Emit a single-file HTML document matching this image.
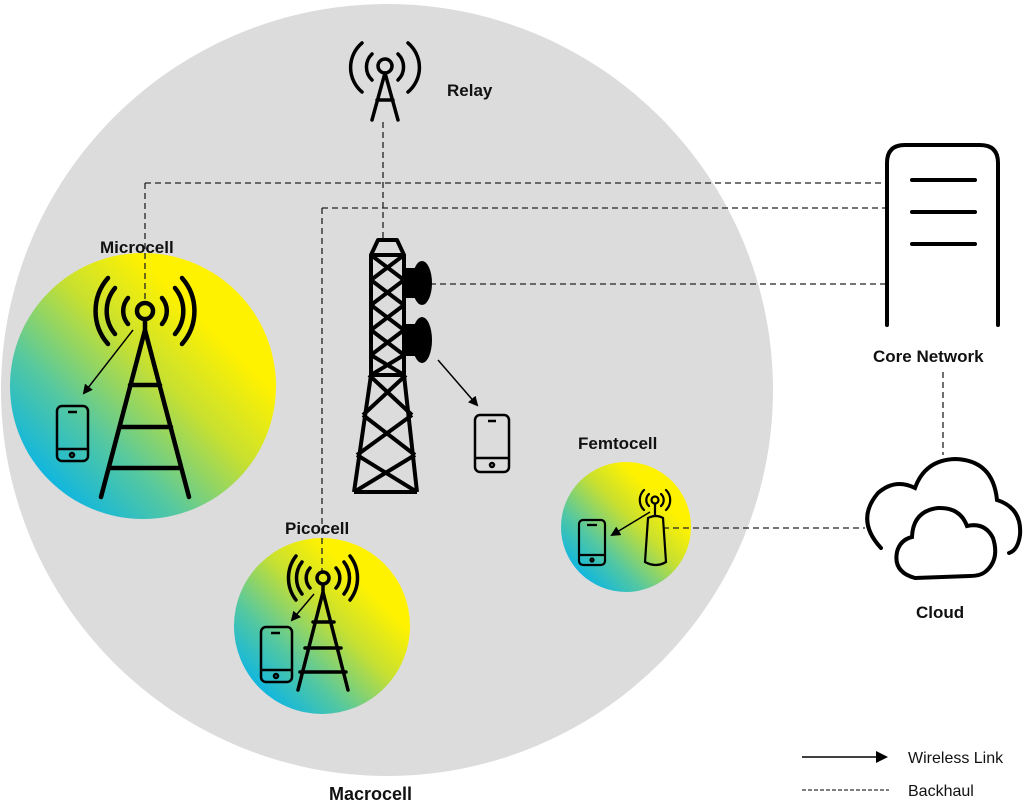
<!DOCTYPE html>
<html><head><meta charset="utf-8"><style>
html,body{margin:0;padding:0;background:#fff;}
svg{display:block}
text{font-family:"Liberation Sans",sans-serif;font-weight:bold;fill:#111}
</style></head><body>
<svg width="1024" height="809" viewBox="0 0 1024 809" xmlns="http://www.w3.org/2000/svg">
<defs>
<linearGradient id="g" x1="0.1" y1="0.9" x2="0.85" y2="0.15">
<stop offset="0" stop-color="#00b2ee"/>
<stop offset="0.3" stop-color="#55c8a0"/>
<stop offset="0.6" stop-color="#c8e030"/>
<stop offset="0.85" stop-color="#fff200"/>
</linearGradient>
<marker id="ah" markerWidth="10" markerHeight="10" refX="8" refY="5" orient="auto" markerUnits="userSpaceOnUse">
<path d="M0,0 L10,5 L0,10 Z" fill="#000"/>
</marker>
</defs>
<circle cx="387" cy="390" r="386" fill="#dcdcdc"/>
<circle cx="143" cy="386" r="133" fill="url(#g)"/>
<circle cx="322" cy="626" r="88" fill="url(#g)"/>
<circle cx="626" cy="527" r="65" fill="url(#g)"/>

<g stroke="#222" stroke-width="1.3" stroke-dasharray="6,4" fill="none">
<path d="M145 183 H885 M145 183 V305"/>
<path d="M322 208 H885 M322 208 V575"/>
<path d="M430 284 H885"/>
<path d="M383 122 V240"/>
<path d="M943 372 V455"/>
<path d="M663 528 H865"/>
</g>

<!-- Relay -->
<g stroke="#000" stroke-width="3.5" fill="none" stroke-linecap="round">
<circle cx="385" cy="66" r="7"/>
<path d="M385 73 L372 120 M385 73 L398 120 M377 100 H393"/>
<path d="M372 54 A18 18 0 0 0 372 80 M398 54 A18 18 0 0 1 398 80"/>
<path d="M362 43 A32 32 0 0 0 362 92 M408 43 A32 32 0 0 1 408 92"/>
</g>
<text x="447" y="96" font-size="17">Relay</text>

<!-- Macro tower -->
<g stroke="#000" stroke-width="4" fill="none" stroke-linejoin="round">
<path d="M378 240 H397 L404 255 H371 Z"/>
<path d="M371 255 V375 L354 492 M404 255 V375 L417 492"/>
<path d="M371 280 L404 305 M404 280 L371 305 M371 305 L404 330 M404 305 L371 330 M371 330 L404 355 M404 330 L371 355 M371 355 L404 375 M404 355 L371 375"/>
<path d="M371 255 L404 280 M404 255 L371 280"/>
<path d="M369 375 H406 M369 375 L412 415 M406 375 L363 415 M363 415 L415 455 M412 415 L357 455 M357 455 L417 492 M415 455 L354 492 M354 492 H417"/>
</g>
<g fill="#000">
<rect x="404" y="268" width="14" height="30"/><ellipse cx="422" cy="283" rx="10" ry="22"/>
<rect x="404" y="324" width="14" height="32"/><ellipse cx="422" cy="340" rx="10" ry="23"/>
</g>
<line x1="438" y1="360" x2="477" y2="405" stroke="#000" stroke-width="1.5" marker-end="url(#ah)"/>
<g stroke="#000" stroke-width="2.5" fill="none">
<rect x="475" y="415" width="34" height="57" rx="5"/><path d="M475 458 H509 M488 421 H496"/><circle cx="492" cy="465" r="2"/>
</g>

<!-- Microcell -->
<text x="100" y="253" font-size="17">Microcell</text>
<g stroke="#000" stroke-width="4.5" fill="none" stroke-linecap="round">
<circle cx="145" cy="311" r="8"/>
<path d="M145 320 V330 M145 330 L101 497 M145 330 L189 497 M130 385 H160 M120 427 H171 M110 468 H181"/>
<path d="M128 298 A20 20 0 0 0 128 324 M162 298 A20 20 0 0 1 162 324"/>
<path d="M115 288 A36 36 0 0 0 115 334 M175 288 A36 36 0 0 1 175 334"/>
<path d="M108 278 A50 50 0 0 0 108 344 M182 278 A50 50 0 0 1 182 344"/>
</g>
<line x1="133" y1="330" x2="84" y2="393" stroke="#000" stroke-width="1.5" marker-end="url(#ah)"/>
<g stroke="#000" stroke-width="2.5" fill="none">
<rect x="57" y="406" width="31" height="55" rx="5"/><path d="M57 449 H88 M68 412 H77"/><circle cx="72" cy="455" r="2"/>
</g>

<!-- Picocell -->
<text x="285" y="534" font-size="17">Picocell</text>
<g stroke="#000" stroke-width="3.5" fill="none" stroke-linecap="round">
<circle cx="323" cy="578" r="6"/>
<path d="M323 585 V592 M323 592 L298 690 M323 592 L348 690 M313 622 H334 M305 648 H341 M300 672 H346"/>
<path d="M310 568 A15 15 0 0 0 310 588 M336 568 A15 15 0 0 1 336 588"/>
<path d="M302 562 A26 26 0 0 0 302 594 M344 562 A26 26 0 0 1 344 594"/>
<path d="M296 556 A36 36 0 0 0 296 600 M350 556 A36 36 0 0 1 350 600"/>
</g>
<line x1="314" y1="594" x2="292" y2="620" stroke="#000" stroke-width="1.5" marker-end="url(#ah)"/>
<g stroke="#000" stroke-width="2.5" fill="none">
<rect x="261" y="627" width="31" height="55" rx="5"/><path d="M261 670 H292 M271 633 H280"/><circle cx="276" cy="676" r="2"/>
</g>

<!-- Femtocell -->
<text x="578" y="449" font-size="17">Femtocell</text>
<g stroke="#000" stroke-width="2.2" fill="none" stroke-linecap="round">
<circle cx="655" cy="500" r="3.5"/>
<path d="M655 504 V516"/>
<path d="M649 494 A8 8 0 0 0 649 506 M661 494 A8 8 0 0 1 661 506"/>
<path d="M644 490 A14 14 0 0 0 644 510 M666 490 A14 14 0 0 1 666 510"/>
<path d="M648 518 Q656 514 663 518 L666 562 Q656 568 645 562 Z"/>
</g>
<line x1="650" y1="512" x2="612" y2="535" stroke="#000" stroke-width="1.5" marker-end="url(#ah)"/>
<g stroke="#000" stroke-width="2.2" fill="none">
<rect x="579" y="520" width="26" height="45" rx="4"/><path d="M579 555 H605 M587 525 H597"/><circle cx="592" cy="560" r="1.5"/>
</g>

<!-- Core network -->
<path d="M887 325 V163 Q887 145 905 145 H980 Q998 145 998 163 V325" stroke="#000" stroke-width="4" fill="none" stroke-linecap="round"/>
<g stroke="#000" stroke-width="4" stroke-linecap="round"><path d="M912 180 H975 M912 212 H975 M912 244 H975"/></g>
<text x="873" y="362" font-size="17">Core Network</text>

<!-- Cloud -->
<g stroke="#000" stroke-width="4" fill="none" stroke-linecap="round">
<path d="M881 548 Q855 520 878 493 Q895 478 915 488 Q925 460 955 459 Q993 460 997 500 Q1022 508 1020 535 Q1018 550 1009 553"/>
<path d="M915 578 Q893 572 897 552 Q900 540 912 537 Q913 511 938 508 Q960 507 967 526 Q985 522 993 538 Q1000 560 985 572 Q980 576 970 576 Z"/>
</g>
<text x="916" y="618" font-size="17">Cloud</text>

<text x="329" y="800" font-size="18">Macrocell</text>

<!-- legend -->
<line x1="802" y1="757" x2="880" y2="757" stroke="#000" stroke-width="1.5"/>
<path d="M876 751 L888 757 L876 763 Z" fill="#000"/>
<line x1="802" y1="790" x2="889" y2="790" stroke="#333" stroke-width="1.2" stroke-dasharray="4,2"/>
<text x="908" y="763" font-size="16" style="font-weight:normal">Wireless Link</text>
<text x="908" y="796" font-size="16" style="font-weight:normal">Backhaul</text>
</svg>
</body></html>
